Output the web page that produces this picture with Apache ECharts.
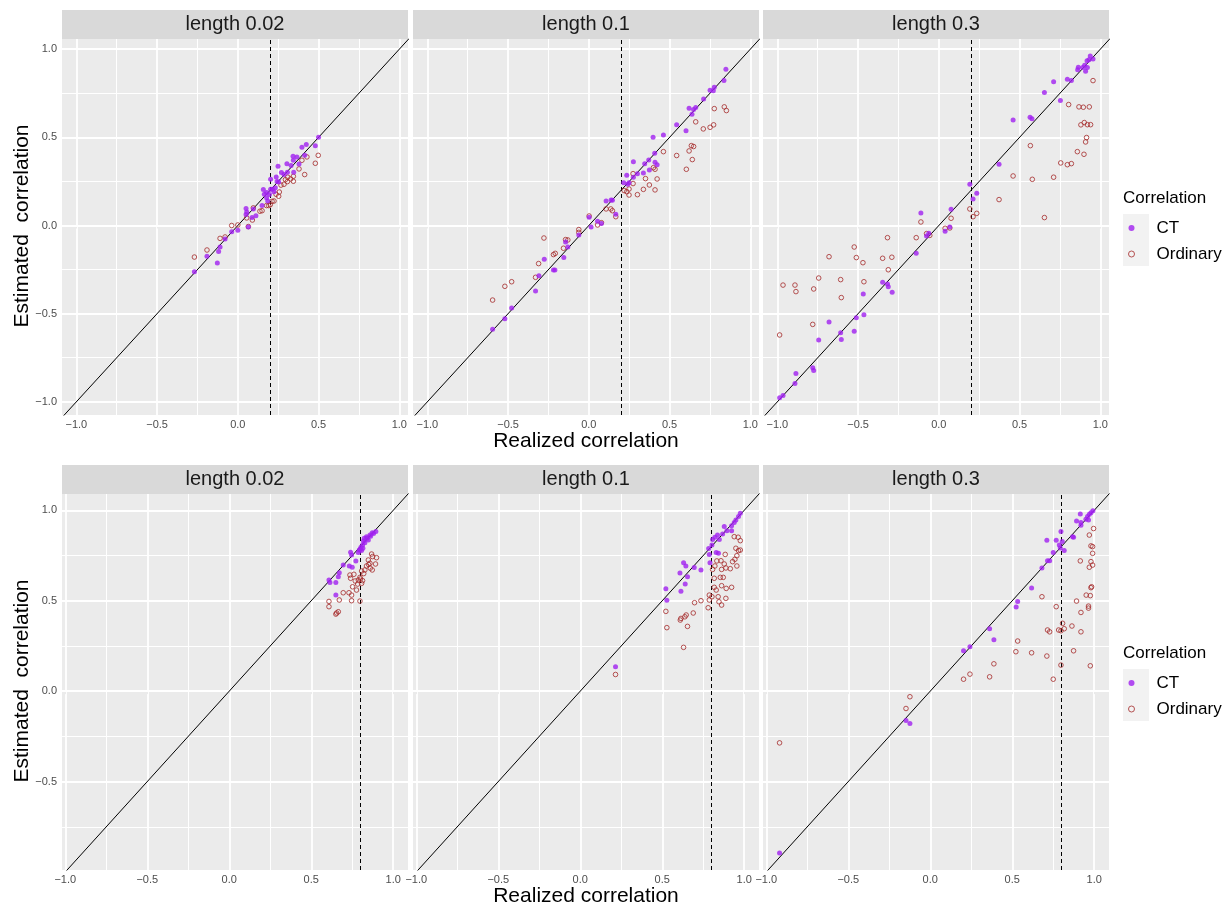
<!DOCTYPE html>
<html>
<head>
<meta charset="utf-8">
<script src="https://cdn.jsdelivr.net/npm/echarts@6/dist/echarts.min.js"></script>
<style>
  html, body { margin: 0; padding: 0; background: #fff; }
  #main { width: 1230px; height: 907px; }
</style>
</head>
<body>
<div id="main"></div>
<script>
var panelTitles = ['length 0.02', 'length 0.1', 'length 0.3'];
var thresholds = [0.2, 0.8];          // dashed line, top row / bottom row
var majorTicks = [-1, -0.5, 0, 0.5, 1];
var minorTicks = [-0.75, -0.25, 0.25, 0.75];
var xRange = [[-1.089, 1.054], [-1.02, 1.09]];
var yRange = [[-1.075, 1.058], [-0.989, 1.09]];
var identity = [-1.3, 1.3];           // y = x reference

// top row
var ctTop02 = [[0.50,0.50],[0.48,0.453],[0.424,0.459],[0.397,0.444],[0.414,0.398],[0.366,0.389],[0.342,0.393],[0.379,0.349],[0.344,0.37],[0.304,0.351],[0.249,0.336],[0.307,0.302],[0.346,0.302],[0.286,0.29],[0.238,0.275],[0.203,0.262],[0.253,0.247],[0.243,0.249],[0.158,0.204],[0.203,0.206],[0.178,0.187],[0.164,0.177],[0.224,0.192],[0.214,0.206],[0.178,0.158],[0.185,0.139],[0.15,0.113],[0.096,0.094],[0.051,0.096],[0.055,0.077],[0.051,0.062],[0.112,0.056],[0.088,0.045],[0.065,-0.008],[0.0,-0.027],[-0.038,-0.035],[-0.079,-0.076],[-0.11,-0.122],[-0.119,-0.148],[-0.127,-0.213],[-0.191,-0.175],[-0.269,-0.262],[0.232,0.214],[0.196,0.176],[0.27,0.30],[0.33,0.34]];
var orTop02 = [[0.498,0.398],[0.48,0.353],[0.414,0.289],[0.428,0.389],[0.397,0.37],[0.379,0.321],[0.344,0.279],[0.344,0.251],[0.327,0.264],[0.307,0.249],[0.286,0.234],[0.309,0.274],[0.253,0.166],[0.257,0.19],[0.224,0.139],[0.212,0.137],[0.191,0.113],[0.178,0.113],[0.15,0.084],[0.137,0.081],[0.096,0.1],[0.09,0.031],[0.055,0.043],[0.065,-0.006],[0.0,0.003],[-0.038,0.0],[-0.11,-0.073],[-0.079,-0.065],[-0.191,-0.139],[-0.269,-0.179],[0.237,0.177],[0.201,0.118],[0.267,0.229],[0.295,0.26]];

var ctTop1 = [[0.849,0.886],[0.837,0.822],[0.777,0.784],[0.751,0.767],[0.771,0.764],[0.711,0.718],[0.621,0.665],[0.649,0.658],[0.662,0.669],[0.639,0.631],[0.544,0.572],[0.602,0.537],[0.398,0.501],[0.462,0.514],[0.408,0.41],[0.276,0.361],[0.371,0.372],[0.346,0.351],[0.41,0.359],[0.423,0.344],[0.375,0.315],[0.338,0.298],[0.301,0.294],[0.235,0.285],[0.276,0.274],[0.249,0.243],[0.216,0.243],[0.241,0.234],[0.107,0.139],[0.138,0.145],[0.146,0.143],[0.167,0.064],[0.002,0.047],[0.054,0.024],[0.078,0.011],[0.014,-0.008],[-0.062,-0.054],[-0.144,-0.093],[-0.13,-0.122],[-0.155,-0.182],[-0.219,-0.252],[-0.21,-0.252],[-0.276,-0.192],[-0.309,-0.285],[-0.33,-0.372],[-0.478,-0.468],[-0.52,-0.529],[-0.596,-0.589]];
var orTop1 = [[0.839,0.673],[0.852,0.652],[0.777,0.663],[0.662,0.588],[0.709,0.548],[0.751,0.557],[0.773,0.571],[0.462,0.419],[0.544,0.397],[0.635,0.453],[0.649,0.448],[0.621,0.423],[0.641,0.374],[0.604,0.319],[0.40,0.328],[0.41,0.319],[0.351,0.266],[0.375,0.23],[0.423,0.264],[0.41,0.202],[0.338,0.205],[0.301,0.175],[0.274,0.294],[0.274,0.238],[0.249,0.207],[0.219,0.198],[0.235,0.192],[0.249,0.173],[0.107,0.094],[0.136,0.094],[0.146,0.084],[0.167,0.05],[0.002,0.054],[0.054,0.003],[0.078,0.016],[-0.062,-0.023],[-0.062,-0.039],[-0.144,-0.08],[-0.13,-0.082],[-0.157,-0.129],[-0.219,-0.165],[-0.208,-0.158],[-0.278,-0.071],[-0.311,-0.216],[-0.33,-0.294],[-0.478,-0.319],[-0.52,-0.345],[-0.596,-0.423]];

var ctTop3 = [[0.938,0.962],[0.955,0.945],[0.918,0.934],[0.93,0.94],[0.864,0.898],[0.891,0.896],[0.903,0.909],[0.92,0.896],[0.909,0.875],[0.86,0.883],[0.796,0.83],[0.821,0.822],[0.711,0.815],[0.654,0.754],[0.753,0.709],[0.46,0.599],[0.565,0.614],[0.577,0.605],[0.373,0.347],[0.192,0.234],[0.235,0.183],[0.212,0.151],[0.076,0.092],[-0.111,0.071],[0.068,-0.008],[0.039,-0.033],[-0.076,-0.059],[-0.062,-0.044],[-0.14,-0.158],[-0.348,-0.322],[-0.318,-0.332],[-0.313,-0.347],[-0.289,-0.379],[-0.468,-0.389],[-0.464,-0.506],[-0.511,-0.523],[-0.524,-0.60],[-0.608,-0.608],[-0.604,-0.646],[-0.68,-0.547],[-0.744,-0.65],[-0.781,-0.807],[-0.775,-0.822],[-0.885,-0.839],[-0.891,-0.897],[-0.965,-0.964],[-0.986,-0.977]];
var orTop3 = [[0.955,0.822],[0.804,0.686],[0.868,0.673],[0.895,0.671],[0.932,0.673],[0.88,0.571],[0.901,0.584],[0.92,0.572],[0.94,0.572],[0.915,0.499],[0.909,0.474],[0.858,0.419],[0.899,0.404],[0.567,0.453],[0.755,0.355],[0.796,0.345],[0.821,0.351],[0.46,0.281],[0.579,0.262],[0.711,0.274],[0.373,0.147],[0.654,0.045],[0.192,0.094],[0.235,0.069],[0.212,0.05],[0.076,0.041],[-0.111,0.02],[0.039,-0.016],[0.068,-0.014],[-0.076,-0.046],[-0.056,-0.056],[-0.14,-0.069],[-0.318,-0.069],[-0.524,-0.122],[-0.511,-0.182],[-0.47,-0.211],[-0.348,-0.186],[-0.291,-0.18],[-0.313,-0.251],[-0.68,-0.177],[-0.608,-0.307],[-0.464,-0.319],[-0.744,-0.298],[-0.775,-0.36],[-0.604,-0.409],[-0.965,-0.338],[-0.891,-0.338],[-0.885,-0.375],[-0.781,-0.561],[-0.986,-0.621]];

// bottom row
var ctBot02 = [[0.894,0.882],[0.872,0.876],[0.858,0.863],[0.837,0.854],[0.848,0.836],[0.823,0.845],[0.827,0.821],[0.813,0.808],[0.803,0.795],[0.793,0.78],[0.807,0.777],[0.787,0.766],[0.74,0.768],[0.746,0.753],[0.772,0.72],[0.732,0.692],[0.695,0.697],[0.75,0.685],[0.671,0.655],[0.665,0.633],[0.608,0.614],[0.614,0.601],[0.65,0.60],[0.65,0.531],[0.88,0.872],[0.862,0.857],[0.818,0.83],[0.798,0.785],[0.84,0.845],[0.815,0.79]];
var orBot02 = [[0.868,0.758],[0.874,0.744],[0.898,0.738],[0.848,0.725],[0.858,0.707],[0.837,0.692],[0.892,0.703],[0.872,0.67],[0.827,0.67],[0.807,0.664],[0.76,0.646],[0.736,0.642],[0.74,0.624],[0.797,0.629],[0.787,0.614],[0.813,0.611],[0.768,0.609],[0.783,0.592],[0.807,0.596],[0.752,0.577],[0.776,0.559],[0.695,0.544],[0.73,0.544],[0.746,0.531],[0.671,0.504],[0.746,0.50],[0.797,0.498],[0.608,0.496],[0.608,0.467],[0.665,0.439],[0.65,0.426],[0.655,0.432],[0.85,0.70],[0.82,0.65],[0.86,0.68],[0.80,0.62]];

var ctBot1 = [[0.976,0.983],[0.965,0.965],[0.949,0.946],[0.939,0.932],[0.923,0.915],[0.878,0.91],[0.894,0.887],[0.923,0.887],[0.868,0.869],[0.837,0.863],[0.821,0.851],[0.848,0.839],[0.807,0.839],[0.803,0.808],[0.783,0.788],[0.829,0.766],[0.843,0.762],[0.787,0.756],[0.791,0.71],[0.63,0.71],[0.644,0.692],[0.695,0.684],[0.736,0.67],[0.608,0.653],[0.654,0.633],[0.64,0.592],[0.522,0.566],[0.614,0.552],[0.528,0.502],[0.215,0.135]];
var orBot1 = [[0.939,0.854],[0.963,0.851],[0.976,0.832],[0.949,0.79],[0.976,0.78],[0.965,0.777],[0.884,0.756],[0.955,0.749],[0.943,0.729],[0.929,0.716],[0.833,0.72],[0.858,0.721],[0.878,0.703],[0.821,0.692],[0.955,0.692],[0.888,0.681],[0.915,0.677],[0.862,0.673],[0.807,0.673],[0.817,0.624],[0.854,0.629],[0.872,0.629],[0.862,0.583],[0.923,0.574],[0.89,0.568],[0.817,0.574],[0.829,0.559],[0.787,0.531],[0.803,0.522],[0.841,0.522],[0.888,0.513],[0.736,0.50],[0.697,0.489],[0.787,0.504],[0.846,0.494],[0.862,0.476],[0.78,0.461],[0.522,0.441],[0.689,0.432],[0.646,0.421],[0.614,0.402],[0.61,0.393],[0.638,0.411],[0.654,0.358],[0.528,0.351],[0.63,0.242],[0.215,0.092]];

var ctBot3 = [[0.992,0.998],[0.98,0.987],[0.97,0.978],[0.959,0.965],[0.949,0.95],[0.915,0.98],[0.892,0.941],[0.919,0.932],[0.919,0.917],[0.965,0.946],[0.797,0.882],[0.868,0.854],[0.874,0.851],[0.711,0.834],[0.768,0.834],[0.805,0.827],[0.787,0.808],[0.793,0.792],[0.817,0.777],[0.75,0.766],[0.715,0.721],[0.728,0.721],[0.681,0.681],[0.618,0.57],[0.533,0.496],[0.524,0.465],[0.362,0.345],[0.388,0.284],[0.242,0.245],[0.203,0.223],[-0.148,-0.162],[-0.124,-0.179],[-0.919,-0.895]];
var orBot3 = [[0.996,0.899],[0.97,0.863],[0.98,0.803],[0.99,0.799],[0.99,0.762],[0.915,0.72],[0.98,0.716],[0.99,0.697],[0.97,0.685],[0.984,0.577],[0.98,0.572],[0.681,0.522],[0.951,0.531],[0.976,0.528],[0.892,0.498],[0.768,0.467],[0.965,0.47],[0.965,0.459],[0.919,0.435],[0.807,0.375],[0.864,0.36],[0.715,0.338],[0.728,0.328],[0.783,0.338],[0.797,0.334],[0.817,0.345],[0.919,0.328],[0.533,0.277],[0.522,0.218],[0.618,0.212],[0.711,0.194],[0.874,0.223],[0.388,0.151],[0.797,0.144],[0.976,0.14],[0.242,0.094],[0.203,0.066],[0.362,0.079],[0.75,0.066],[-0.124,-0.031],[-0.148,-0.096],[-0.919,-0.286]];

var ctData = [ctTop02, ctTop1, ctTop3, ctBot02, ctBot1, ctBot3];
var orData = [orTop02, orTop1, orTop3, orBot02, orBot1, orBot3];

var FONT = 'Liberation Sans, Arial, sans-serif';
var CT_COLOR = '#a020f0';
var OR_COLOR = '#a52a2a';
var gridLefts = [62, 413, 763];
var gridTops = [39, 494];
var panelW = 346, panelH = 376;

function fmt(v) { return v.toFixed(1).replace('-', '\u2212'); }
function inside(vals, r) { return vals.filter(function (v) { return v >= r[0] && v <= r[1]; }); }

var grids = [], xAxes = [], yAxes = [], series = [], graphics = [];

for (var row = 0; row < 2; row++) {
  for (var col = 0; col < 3; col++) {
    var p = row * 3 + col;
    var xr = xRange[row], yr = yRange[row];
    grids.push({ left: gridLefts[col], top: gridTops[row], width: panelW, height: panelH,
      show: true, backgroundColor: '#ebebeb', borderWidth: 0 });
    xAxes.push({ type: 'value', gridIndex: p, min: xr[0], max: xr[1],
      axisLine: { show: false },
      axisTick: { show: true, length: 3, lineStyle: { color: '#333', width: 1 }, customValues: inside(majorTicks, xr) },
      axisLabel: { customValues: inside(majorTicks, xr), formatter: fmt, color: '#4d4d4d', fontSize: 11, margin: 4, fontFamily: FONT },
      splitLine: { show: false } });
    yAxes.push({ type: 'value', gridIndex: p, min: yr[0], max: yr[1],
      axisLine: { show: false },
      axisTick: { show: col === 0, length: 3, lineStyle: { color: '#333', width: 1 }, customValues: inside(majorTicks, yr) },
      axisLabel: { show: col === 0, customValues: inside(majorTicks, yr), formatter: fmt, color: '#4d4d4d', fontSize: 11, margin: 5, fontFamily: FONT },
      splitLine: { show: false } });

    // white panel grid lines (markLine z defaults to 5, keep them under the marks)
    var gl = [];
    majorTicks.forEach(function (v) {
      if (v > xr[0] && v < xr[1]) gl.push({ xAxis: v, lineStyle: { width: 1.8 } });
      if (v > yr[0] && v < yr[1]) gl.push({ yAxis: v, lineStyle: { width: 1.8 } });
    });
    minorTicks.forEach(function (v) {
      if (v > xr[0] && v < xr[1]) gl.push({ xAxis: v, lineStyle: { width: 1 } });
      if (v > yr[0] && v < yr[1]) gl.push({ yAxis: v, lineStyle: { width: 1 } });
    });
    series.push({ type: 'scatter', xAxisIndex: p, yAxisIndex: p, data: [], z: 1, silent: true,
      markLine: { z: 1, silent: true, symbol: ['none', 'none'], animation: false, label: { show: false },
        lineStyle: { color: '#ffffff', type: 'solid', opacity: 1 }, data: gl } });

    // y = x line and dashed threshold
    series.push({ type: 'line', xAxisIndex: p, yAxisIndex: p, z: 2, silent: true, clip: true,
      data: identity.map(function (v) { return [v, v]; }),
      showSymbol: false, lineStyle: { color: '#000', width: 1 },
      markLine: { z: 2, silent: true, symbol: ['none', 'none'], animation: false, label: { show: false },
        lineStyle: { color: '#000', type: [4, 3], width: 1 }, data: [{ xAxis: thresholds[row] }] } });

    series.push({ name: 'Ordinary', type: 'scatter', xAxisIndex: p, yAxisIndex: p, z: 3,
      data: orData[p], symbol: 'circle', symbolSize: 4.6,
      itemStyle: { color: 'rgba(0,0,0,0)', borderColor: OR_COLOR, borderWidth: 1 } });
    series.push({ name: 'CT', type: 'scatter', xAxisIndex: p, yAxisIndex: p, z: 4,
      data: ctData[p], symbol: 'circle', symbolSize: 5,
      itemStyle: { color: CT_COLOR } });

    // facet strip
    graphics.push({ type: 'rect', shape: { x: gridLefts[col], y: gridTops[row] - 29, width: panelW, height: 29 },
      style: { fill: '#d9d9d9' } });
    graphics.push({ type: 'text', x: gridLefts[col] + panelW / 2, y: gridTops[row] - 14.5,
      style: { text: panelTitles[col], fill: '#1a1a1a', fontSize: 20, fontFamily: FONT,
        textAlign: 'center', textVerticalAlign: 'middle' } });
  }

  // axis titles
  graphics.push({ type: 'text', x: 586, y: gridTops[row] + panelH + 26,
    style: { text: 'Realized correlation', fill: '#000', fontSize: 21, fontFamily: FONT,
      textAlign: 'center', textVerticalAlign: 'middle' } });
  graphics.push({ type: 'text', x: 22, y: gridTops[row] + 187, rotation: Math.PI / 2,
    style: { text: 'Estimated  correlation', fill: '#000', fontSize: 21, fontFamily: FONT,
      textAlign: 'center', textVerticalAlign: 'middle' } });

  // legend title and key background
  var ly = [198, 653][row];
  graphics.push({ type: 'text', x: 1123, y: ly,
    style: { text: 'Correlation', fill: '#000', fontSize: 17, fontFamily: FONT,
      textAlign: 'left', textVerticalAlign: 'middle' } });
  graphics.push({ type: 'rect', shape: { x: 1123, y: ly + 16, width: 26, height: 52 },
    style: { fill: '#f2f2f2' } });
}

var legends = [210, 665].map(function (top) {
  return {
    orient: 'vertical', left: 1123, top: top, itemWidth: 26, itemHeight: 6, itemGap: 0,
    selectedMode: false,
    textStyle: { fontSize: 17, color: '#000', fontFamily: FONT, lineHeight: 26, padding: [0, 0, 0, 7] },
    data: [
      { name: 'CT', icon: 'circle', itemStyle: { color: CT_COLOR, borderWidth: 0 } },
      { name: 'Ordinary', icon: 'circle', itemStyle: { color: 'rgba(0,0,0,0)', borderColor: OR_COLOR, borderWidth: 1 } }
    ]
  };
});

var chart = echarts.init(document.getElementById('main'));
chart.setOption({
  animation: false,
  backgroundColor: '#ffffff',
  grid: grids,
  xAxis: xAxes,
  yAxis: yAxes,
  legend: legends,
  graphic: graphics,
  series: series
});
</script>
</body>
</html>
